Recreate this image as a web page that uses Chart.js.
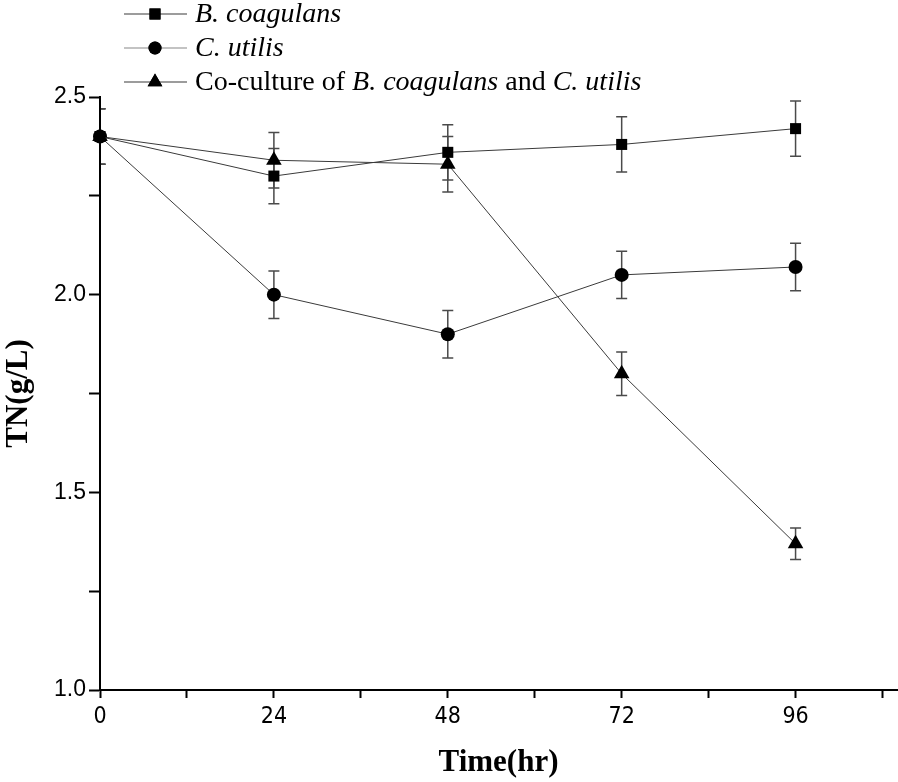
<!DOCTYPE html>
<html>
<head>
<meta charset="utf-8">
<script src="https://cdn.jsdelivr.net/npm/chart.js@4.4.1/dist/chart.umd.min.js"></script>
<style>
  html, body { margin: 0; padding: 0; background: #fff; overflow: hidden; }
  #wrap { width: 898px; height: 782px; position: relative; overflow: hidden; }
</style>
</head>
<body>
<div id="wrap"><canvas id="grafik"></canvas></div>
<script>
// Zaman noktalari (saat)
const zaman = [0, 24, 48, 72, 96];

// Seriler: ortalama TN (g/L) ve hata cubuklari
const bCoagulans = [2.40, 2.30, 2.36, 2.38, 2.42];
const bCoagulansHata = [0.07, 0.07, 0.07, 0.07, 0.07];

const cUtilis = [2.40, 2.00, 1.90, 2.05, 2.07];
const cUtilisHata = [0.07, 0.06, 0.06, 0.06, 0.06];

const kokultur = [2.40, 2.34, 2.33, 1.80, 1.37];
const kokulturHata = [0.07, 0.07, 0.07, 0.055, 0.04];

const xEtiketleri = [0, 24, 48, 72, 96];
const yEtiketleri = [1.0, 1.5, 2.0, 2.5];

const cizgiRengi = '#3a3a3a';

function noktalar(degerler) {
  return zaman.map((t, i) => ({ x: t, y: degerler[i] }));
}

// Hata cubuklarini isaretlerin arkasina ciz
const hataCubuklari = {
  id: 'hataCubuklari',
  beforeDatasetsDraw(chart) {
    const { ctx, chartArea, scales } = chart;
    ctx.save();
    ctx.beginPath();
    ctx.rect(chartArea.left + 1, chartArea.top - 10, chartArea.right - chartArea.left, chartArea.bottom - chartArea.top + 10);
    ctx.clip();
    ctx.strokeStyle = '#4a4a4a';
    ctx.lineWidth = 1.5;
    chart.data.datasets.forEach(ds => {
      ds.data.forEach((p, i) => {
        const e = ds.hata[i];
        const x = scales.x.getPixelForValue(p.x);
        const y1 = scales.y.getPixelForValue(p.y + e);
        const y2 = scales.y.getPixelForValue(p.y - e);
        ctx.beginPath();
        ctx.moveTo(x, y1); ctx.lineTo(x, y2);
        ctx.moveTo(x - 5.5, y1); ctx.lineTo(x + 5.5, y1);
        ctx.moveTo(x - 5.5, y2); ctx.lineTo(x + 5.5, y2);
        ctx.stroke();
      });
    });
    ctx.restore();
  }
};

// Italik parcali lejant
const lejant = {
  id: 'lejant',
  afterDraw(chart) {
    const ctx = chart.ctx;
    const satirlar = [
      { y: 14, stil: 'rect', r: 7.8, renk: cizgiRengi, parcalar: [['B. coagulans', true]] },
      { y: 48, stil: 'circle', r: 6.5, renk: '#888', parcalar: [['C. utilis', true]] },
      { y: 82, stil: 'triangle', r: 8.5, renk: cizgiRengi, parcalar: [
        ['Co-culture of ', false], ['B. coagulans', true], [' and ', false], ['C. utilis', true]] }
    ];
    ctx.save();
    satirlar.forEach(s => {
      ctx.strokeStyle = s.renk;
      ctx.lineWidth = 1.2;
      ctx.beginPath();
      ctx.moveTo(124, s.y); ctx.lineTo(187, s.y);
      ctx.stroke();
      ctx.fillStyle = '#000';
      Chart.helpers.drawPoint(ctx, { pointStyle: s.stil, radius: s.r, rotation: 0, borderWidth: 0 }, 155, s.y);
      ctx.fill();
      let x = 195;
      ctx.textBaseline = 'middle';
      s.parcalar.forEach(([metin, italik]) => {
        ctx.font = (italik ? 'italic ' : '') + '28px "Liberation Serif", "Times New Roman", serif';
        ctx.fillText(metin, x, s.y + 1);
        x += ctx.measureText(metin).width;
      });
    });
    ctx.restore();
  }
};

const ortakSeri = {
  borderColor: cizgiRengi,
  borderWidth: 1,
  pointBackgroundColor: '#000',
  pointBorderColor: '#000',
  pointBorderWidth: 0,
  tension: 0,
  clip: false
};

const ctx = document.getElementById('grafik').getContext('2d');
new Chart(ctx, {
  type: 'scatter',
  data: {
    datasets: [
      Object.assign({}, ortakSeri, { label: 'B. coagulans', data: noktalar(bCoagulans), hata: bCoagulansHata, showLine: true, pointStyle: 'rect', pointRadius: 7.8 }),
      Object.assign({}, ortakSeri, { label: 'C. utilis', data: noktalar(cUtilis), hata: cUtilisHata, showLine: true, pointStyle: 'circle', pointRadius: 7 }),
      Object.assign({}, ortakSeri, { label: 'Co-culture of B. coagulans and C. utilis', data: noktalar(kokultur), hata: kokulturHata, showLine: true, pointStyle: 'triangle', pointRadius: 9 })
    ]
  },
  options: {
    responsive: true,
    maintainAspectRatio: false,
    animation: false,
    layout: { autoPadding: false, padding: { top: 97, right: 1, left: 0, bottom: 0 } },
    plugins: {
      legend: { display: false },
      tooltip: { enabled: false }
    },
    scales: {
      x: {
        type: 'linear',
        min: 0,
        max: 110,
        afterFit(scale) {
          scale.height = 92;
          scale.paddingRight = 0;
          scale.paddingLeft = 0;
        },
        afterBuildTicks(scale) {
          const t = [];
          for (let v = 0; v <= 108; v += 12) t.push({ value: v });
          scale.ticks = t;
        },
        ticks: {
          autoSkip: false,
          maxRotation: 0,
          padding: 5,
          color: '#000',
          font: { family: '"Liberation Sans Narrow", "DejaVu Sans Condensed", Arial, sans-serif', size: 23 },
          callback: v => xEtiketleri.includes(v) ? String(v) : ''
        },
        grid: { drawOnChartArea: false, tickLength: 8, tickWidth: 2, tickColor: '#000' },
        border: { color: '#000', width: 2 },
        title: {
          display: true,
          text: 'Time(hr)',
          color: '#000',
          padding: { top: 2, bottom: 0 },
          font: { family: '"Liberation Serif", "Times New Roman", serif', size: 31, weight: 'bold' }
        }
      },
      y: {
        min: 1.0,
        max: 2.5,
        afterFit(scale) { scale.width = 100; },
        afterBuildTicks(scale) {
          const t = [];
          for (let v = 1.0; v <= 2.5001; v += 0.25) t.push({ value: Math.round(v * 100) / 100 });
          scale.ticks = t;
        },
        ticks: {
          autoSkip: false,
          padding: 3,
          color: '#000',
          font: { family: '"Liberation Sans", Arial, sans-serif', size: 23 },
          callback: v => yEtiketleri.some(e => Math.abs(e - v) < 1e-6) ? v.toFixed(1) : ''
        },
        grid: { drawOnChartArea: false, tickLength: 11, tickWidth: 2, tickColor: '#000' },
        border: { color: '#000', width: 2 },
        title: {
          display: true,
          text: 'TN(g/L)',
          color: '#000',
          padding: { top: 0, bottom: 2 },
          font: { family: '"Liberation Serif", "Times New Roman", serif', size: 31, weight: 'bold' }
        }
      }
    }
  },
  plugins: [hataCubuklari, lejant]
});
</script>
</body>
</html>
